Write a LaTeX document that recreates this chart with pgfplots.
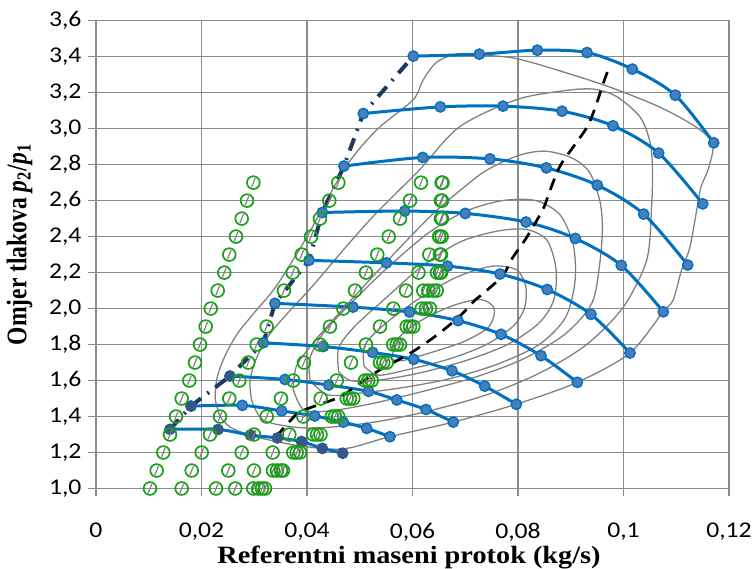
\documentclass[border=0pt]{standalone}
\usepackage{pgfplots}
\pgfplotsset{compat=1.18}
\usepackage{fontspec}
\setmainfont{Liberation Serif}
\newfontfamily\calibri[FakeStretch=1.14]{Carlito}
\newfontfamily\xlab[FakeStretch=1.136]{Liberation Serif}
\newfontfamily\ylab[FakeStretch=0.83]{Liberation Serif}
\definecolor{spd}{RGB}{0,112,192}
\definecolor{mfill}{RGB}{74,126,187}
\definecolor{mdark}{RGB}{52,88,135}
\definecolor{surge}{RGB}{31,56,100}
\definecolor{grn}{RGB}{25,160,25}
\definecolor{gridc}{RGB}{140,140,140}
\definecolor{cont}{RGB}{128,128,128}
\pgfdeclareplotmark{gcs}{%
  \pgfsetlinewidth{0.6bp}%
  \pgfsetstrokecolor{cont}%
  \pgfpathmoveto{\pgfqpoint{-0.29\pgfplotmarksize}{-0.72\pgfplotmarksize}}%
  \pgfpathlineto{\pgfqpoint{0.29\pgfplotmarksize}{0.72\pgfplotmarksize}}%
  \pgfusepathqstroke
  \pgfsetlinewidth{0.85bp}%
  \pgfsetstrokecolor{grn}%
  \pgfpathcircle{\pgfpointorigin}{\pgfplotmarksize}%
  \pgfusepathqstroke
}
\pgfplotsset{
  spdline/.style={spd, line width=1.5bp, smooth, tension=0.5, mark=*, mark size=2.6bp,
    mark options={fill=mfill, draw=spd, line width=0.7bp}},
  spddark/.style={spd, line width=1.5bp, smooth, tension=0.5, mark=*, mark size=2.6bp,
    mark options={fill=mdark, draw=mdark, line width=0.7bp}},
  cline/.style={cont, line width=0.65bp, smooth, no markers},
  gpts/.style={only marks, mark=gcs, mark size=3.2bp},
}
\begin{document}
\begin{tikzpicture}
\begin{axis}[
  at={(0,0)}, anchor=south west,
  scale only axis, width=316.5bp, height=233.9bp,
  xmin=0, xmax=0.12, ymin=1, ymax=3.6,
  xtick={0,0.02,0.04,0.06,0.08,0.1,0.12},
  xticklabels={0,{0,02},{0,04},{0,06},{0,08},{0,1},{0,12}},
  ytick={1,1.2,1.4,1.6,1.8,2,2.2,2.4,2.6,2.8,3,3.2,3.4,3.6},
  yticklabels={{1,0},{1,2},{1,4},{1,6},{1,8},{2,0},{2,2},{2,4},{2,6},{2,8},{3,0},{3,2},{3,4},{3,6}},
  scaled x ticks=false, scaled y ticks=false,
  grid=major, major grid style={draw=gridc, line width=0.75bp},
  axis line style={draw=gridc, line width=0.75bp},
  tick style={draw=gridc, line width=0.75bp},
  tick align=outside, major tick length=3.75bp,
  xtick pos=lower, ytick pos=left,
  ticklabel style={font=\calibri\fontsize{11.3}{13}\selectfont, text=black},
  xticklabel style={yshift=-10bp},
  clip=false,
  xlabel={\xlab\bfseries\fontsize{12.5}{14}\selectfont Referentni maseni protok (kg/s)},
  ylabel={\ylab\bfseries\fontsize{14.25}{16}\selectfont Omjer tlakova \textit{p}\textsubscript{2}/\textit{p}\textsubscript{1}},
  xlabel style={at={(axis description cs:0.4945,-0.1593)}, anchor=base},
  ylabel style={at={(axis description cs:-0.110,0.522)}, anchor=base},
]
% efficiency contours
\addplot[cline] coordinates {(0.0235,1.40)(0.0226,1.50)(0.0230,1.62)(0.0245,1.74)(0.0268,1.86)(0.0298,1.97)(0.0343,2.13)(0.0400,2.40)(0.0472,2.78)(0.0531,2.99)(0.0601,3.16)(0.0620,3.27)(0.0646,3.37)(0.0684,3.415)(0.0726,3.41)(0.0796,3.39)(0.0885,3.316)(0.0973,3.232)(0.1068,3.121)(0.1137,3.01)(0.1169,2.918)(0.1162,2.788)(0.1147,2.677)(0.1142,2.603)(0.1126,2.343)(0.1110,2.214)(0.1094,2.047)(0.1075,1.982)(0.1012,1.753)(0.0912,1.590)(0.0796,1.468)(0.0677,1.369)(0.0557,1.288)(0.0468,1.22)(0.0380,1.24)(0.0300,1.29)(0.0255,1.34)(0.0235,1.40)};
\addplot[cline] coordinates {(0.0295,1.49)(0.0292,1.60)(0.0305,1.73)(0.0330,1.86)(0.0365,1.98)(0.0412,2.13)(0.0470,2.33)(0.0531,2.53)(0.0613,2.77)(0.0689,3.01)(0.0796,3.16)(0.0885,3.21)(0.0942,3.22)(0.0986,3.18)(0.1030,3.07)(0.1049,2.94)(0.1055,2.79)(0.1053,2.55)(0.1044,2.27)(0.1000,2.01)(0.0930,1.80)(0.0840,1.64)(0.0740,1.52)(0.0630,1.43)(0.0530,1.37)(0.0440,1.34)(0.0380,1.34)(0.0317,1.38)(0.0295,1.49)};
\addplot[cline] coordinates {(0.0374,1.55)(0.0380,1.68)(0.0412,1.81)(0.0444,1.92)(0.0500,2.10)(0.0570,2.32)(0.0640,2.53)(0.0700,2.68)(0.0741,2.77)(0.0800,2.85)(0.0850,2.875)(0.0900,2.84)(0.0935,2.76)(0.0955,2.60)(0.0960,2.45)(0.0955,2.25)(0.0940,2.03)(0.0890,1.86)(0.0810,1.72)(0.0720,1.62)(0.0620,1.54)(0.0520,1.47)(0.0440,1.43)(0.0393,1.44)(0.0374,1.55)};
\addplot[cline] coordinates {(0.0406,1.60)(0.0405,1.72)(0.0430,1.86)(0.0480,2.02)(0.0550,2.22)(0.0630,2.42)(0.0700,2.54)(0.0770,2.60)(0.0834,2.60)(0.0880,2.52)(0.0905,2.35)(0.0908,2.15)(0.0890,1.95)(0.0840,1.80)(0.0760,1.69)(0.0670,1.61)(0.0580,1.56)(0.0500,1.53)(0.0440,1.52)(0.0406,1.60)};
\addplot[cline] coordinates {(0.0460,1.65)(0.0460,1.78)(0.0490,1.90)(0.0550,2.06)(0.0620,2.24)(0.0690,2.37)(0.0760,2.43)(0.0815,2.44)(0.0855,2.38)(0.0872,2.22)(0.0868,2.05)(0.0840,1.92)(0.0780,1.80)(0.0700,1.71)(0.0610,1.64)(0.0530,1.60)(0.0482,1.60)(0.0460,1.65)};
\addplot[cline] coordinates {(0.0508,1.68)(0.0510,1.80)(0.0550,1.92)(0.0610,2.05)(0.0680,2.17)(0.0740,2.23)(0.0772,2.235)(0.0800,2.21)(0.0815,2.12)(0.0812,2.00)(0.0790,1.90)(0.0740,1.80)(0.0670,1.72)(0.0590,1.66)(0.0535,1.63)(0.0508,1.68)};
\addplot[cline] coordinates {(0.0560,1.72)(0.0575,1.84)(0.0620,1.94)(0.0680,2.02)(0.0730,2.05)(0.0755,2.00)(0.0745,1.90)(0.0700,1.82)(0.0640,1.76)(0.0580,1.71)(0.0560,1.72)};
% speed lines
\addplot[spdline] coordinates {(0.06015,3.403)(0.07266,3.414)(0.08366,3.436)(0.09308,3.423)(0.10167,3.331)(0.10982,3.186)(0.1171,2.921)};
\addplot[spdline] coordinates {(0.05067,3.084)(0.06527,3.121)(0.07716,3.125)(0.08834,3.097)(0.09801,3.016)(0.10667,2.864)(0.11502,2.582)};
\addplot[spdline] coordinates {(0.04701,2.792)(0.06193,2.840)(0.07469,2.832)(0.08537,2.782)(0.09503,2.686)(0.10383,2.525)(0.11217,2.242)};
\addplot[spdline] coordinates {(0.0429,2.534)(0.05852,2.542)(0.07001,2.529)(0.08152,2.481)(0.09086,2.390)(0.09958,2.240)(0.10755,1.982)};
\addplot[spdline] coordinates {(0.04038,2.268)(0.05507,2.254)(0.06664,2.236)(0.07659,2.192)(0.08554,2.106)(0.09384,1.968)(0.10123,1.753)};
\addplot[spdline] coordinates {(0.03393,2.029)(0.04872,2.008)(0.05943,1.981)(0.06863,1.933)(0.07678,1.857)(0.08436,1.738)(0.09124,1.590)};
\addplot[spdline] coordinates {(0.03172,1.810)(0.04309,1.789)(0.05245,1.756)(0.06023,1.718)(0.06749,1.654)(0.07369,1.569)(0.07968,1.468)};
\addplot[spdline] coordinates {(0.02540,1.625)(0.03583,1.606)(0.04411,1.575)(0.05166,1.540)(0.05702,1.492)(0.06256,1.439)(0.06773,1.369)};
\addplot[spdline] coordinates {(0.01801,1.458)(0.02774,1.462)(0.03520,1.431)(0.04146,1.403)(0.04688,1.369)(0.05132,1.334)(0.05573,1.288)};
\addplot[spddark] coordinates {(0.01403,1.329)(0.02313,1.328)(0.02929,1.297)(0.03441,1.281)(0.03896,1.261)(0.04290,1.223)(0.04677,1.196)};
\addplot[only marks, mark=*, mark size=2.6bp, mark options={fill=mdark, draw=mdark}] coordinates {(0.01801,1.458)(0.02540,1.625)};
% peak efficiency line
\addplot[black, line width=1.35bp, dash pattern=on 6bp off 4bp, smooth, no markers] coordinates {(0.03412,1.286)(0.03678,1.375)(0.03905,1.431)(0.04626,1.508)(0.04872,1.558)(0.05346,1.653)(0.05725,1.714)(0.05991,1.758)(0.06332,1.825)(0.06654,1.897)(0.06957,1.975)(0.07185,2.047)(0.07374,2.092)(0.07716,2.186)(0.07905,2.286)(0.08133,2.381)(0.08360,2.492)(0.08493,2.564)(0.08645,2.686)(0.08796,2.792)(0.09043,2.897)(0.09308,3.008)(0.09460,3.114)(0.09592,3.231)(0.09706,3.325)};
% surge line
\addplot[surge, line width=2bp, dash pattern=on 6.5bp off 4bp on 1bp off 4bp, no markers] coordinates {(0.01403,1.329)(0.01801,1.458)(0.02540,1.625)(0.03172,1.810)(0.03393,2.029)(0.04038,2.268)(0.0429,2.534)(0.04701,2.792)(0.05067,3.084)(0.06015,3.403)};
% measured points
\addplot[gpts] coordinates {(0.01024,1.0)(0.01151,1.1)(0.01276,1.2)(0.01403,1.3)(0.01517,1.4)(0.01625,1.5)(0.01769,1.6)(0.01877,1.7)(0.01972,1.8)(0.02080,1.9)(0.02175,2.0)(0.02307,2.1)(0.02432,2.2)(0.02527,2.3)(0.02654,2.4)(0.02762,2.5)(0.02863,2.6)(0.02983,2.7)};
\addplot[gpts] coordinates {(0.01625,1.0)(0.01814,1.1)(0.02004,1.2)(0.02161,1.3)(0.02351,1.4)(0.02527,1.5)(0.02717,1.6)(0.02887,1.7)(0.03046,1.8)(0.03236,1.9)(0.03564,2.1)(0.03729,2.2)(0.03900,2.3)(0.04076,2.4)(0.04246,2.5)(0.04423,2.6)(0.04594,2.7)};
\addplot[gpts] coordinates {(0.02275,1.0)(0.02508,1.1)(0.02762,1.2)(0.02995,1.3)(0.03236,1.4)(0.03507,1.5)(0.03740,1.6)(0.03943,1.7)(0.04246,1.8)(0.04436,1.9)(0.04688,2.0)(0.04910,2.1)(0.05118,2.2)(0.05333,2.3)(0.05549,2.4)(0.05763,2.5)(0.05953,2.6)(0.06161,2.7)};
\addplot[gpts] coordinates {(0.02641,1.0)(0.02995,1.1)(0.03350,1.2)(0.03665,1.3)(0.03930,1.4)(0.04260,1.5)(0.04563,1.6)(0.04834,1.7)(0.05118,1.8)(0.05384,1.9)(0.05636,2.0)(0.05877,2.1)(0.06114,2.2)(0.06319,2.3)(0.06508,2.4)};
\addplot[gpts] coordinates {(0.02982,1.0)(0.03355,1.1)(0.03740,1.2)(0.04119,1.3)(0.04468,1.4)(0.04753,1.5)(0.05100,1.6)(0.05384,1.7)(0.05636,1.8)(0.05890,1.9)(0.06174,2.0)(0.06205,2.1)(0.06464,2.2)(0.06521,2.3)(0.06508,2.4)(0.06540,2.5)(0.06540,2.6)(0.06553,2.7)};
\addplot[gpts] coordinates {(0.03077,1.0)(0.03431,1.1)(0.03805,1.2)(0.04190,1.3)(0.04531,1.4)(0.04815,1.5)(0.05162,1.6)(0.05446,1.7)(0.05700,1.8)(0.05953,1.9)(0.06256,2.0)(0.06300,2.1)(0.06521,2.2)(0.06540,2.3)(0.06553,2.4)(0.06559,2.5)(0.06559,2.6)(0.06569,2.7)};
\addplot[gpts] coordinates {(0.03147,1.0)(0.03507,1.1)(0.03867,1.2)(0.04256,1.3)(0.04593,1.4)(0.04878,1.5)(0.05227,1.6)(0.05511,1.7)(0.05763,1.8)(0.06015,1.9)(0.06332,2.0)(0.06394,2.1)(0.06540,2.2)};
\addplot[gpts] coordinates {(0.03204,1.0)(0.03545,1.1)(0.06459,2.1)};
\end{axis}
\pgfresetboundingbox
\path[use as bounding box] (-48bp,-40.25bp) rectangle (328bp,244.25bp);
\end{tikzpicture}
\end{document}
